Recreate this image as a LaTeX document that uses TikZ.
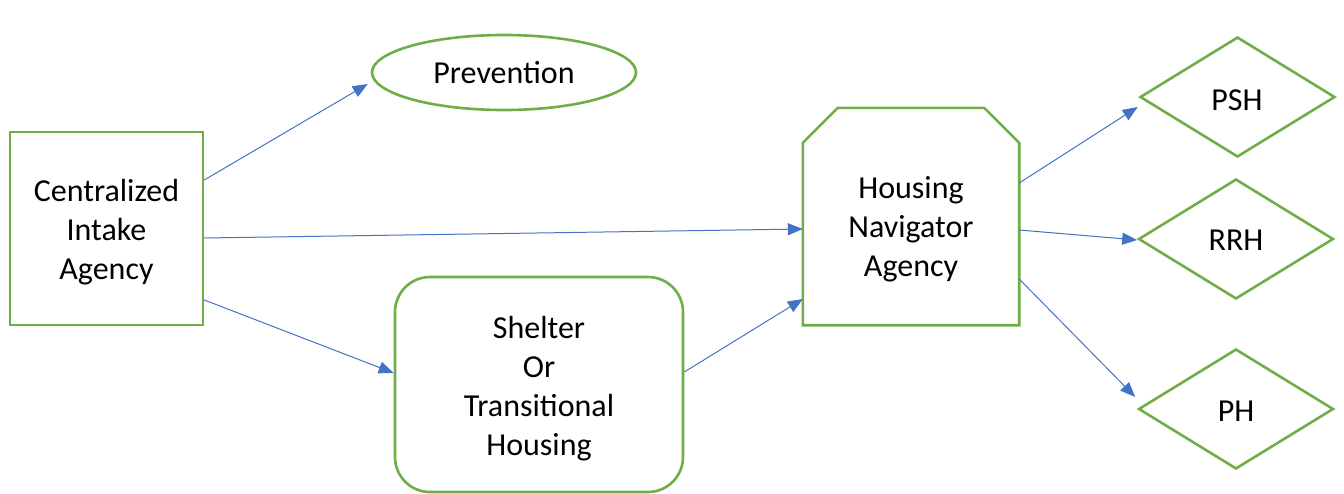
\documentclass[tikz,border=0pt]{standalone}
\usepackage{fontspec}
\setmainfont{Carlito}
\usetikzlibrary{shapes.geometric,arrows.meta,calc}
\definecolor{boxgreen}{HTML}{70AD47}
\definecolor{linkblue}{HTML}{4472C4}
\begin{document}
\begin{tikzpicture}[x=1pt,y=-1pt,
  every node/.style={font=\fontsize{32}{39}\selectfont, align=center, inner sep=0pt},
  boxline/.style={draw=boxgreen, line width=2.6pt},
  link/.style={draw=linkblue, line width=1pt, -{Triangle[length=15pt,width=12pt]}, fill=none},
  dia/.style={boxline, diamond, minimum width=195pt, minimum height=120pt}]
\useasboundingbox (0,0) rectangle (1344,493);

% agencies and programmes
\node[boxline, rectangle, minimum width=193pt, minimum height=193pt] (ci) at (106.5,228.5) {};
\node (citext) at (106.5,232) {Centralized\\Intake\\Agency};
\node[boxline, ellipse, minimum width=264pt, minimum height=75pt] (prev) at (504,72.5) {};
\node (prevtext) at (504,73) {Prevention};
\node[boxline, rectangle, rounded corners=35pt, minimum width=288pt, minimum height=215pt] (sh) at (539,384.5) {};
\node (shtext) at (539,389) {Shelter\\Or\\Transitional\\Housing};

% navigator box with the two upper corners cut off
\node[rectangle, minimum width=216pt, minimum height=217pt] (nav) at (911,216.5) {};
\draw[boxline, line join=miter] ($(nav.north west)+(0,35)$) -- ($(nav.north west)+(35,0)$)
  -- ($(nav.north east)+(-35,0)$) -- ($(nav.north east)+(0,35)$)
  -- (nav.south east) -- (nav.south west) -- cycle;
\node (navtext) at (911,229.5) {Housing\\Navigator\\Agency};

% housing outcomes
\node[dia] (psh) at (1237.5,97) {};
\node (pshtext) at (1237,100) {PSH};
\node[dia] (rrh) at (1236,239) {};
\node (rrhtext) at (1236,240) {RRH};
\node[dia] (ph) at (1236,409) {};
\node (phtext) at (1236,411) {PH};

% referral flows
\draw[link] ($(ci.east)+(0,-48.5)$) -- ($(prev.west)+(-3,11.5)$);
\draw[link] ($(ci.east)+(0,9.5)$) -- ($(nav.west)+(0,12.5)$);
\draw[link] ($(ci.east)+(0,71.5)$) -- ($(sh.west)+(0,-11.5)$);
\draw[link] ($(sh.east)+(0,-12.5)$) -- ($(nav.west)+(0,82.5)$);
\draw[link] ($(nav.east)+(0,-33.5)$) -- ($(psh.west)+(-1,10)$);
\draw[link] ($(nav.east)+(0,13.5)$) -- ($(rrh.west)+(0,1)$);
\draw[link] ($(nav.east)+(0,62.5)$) -- ($(ph.west)+(-2,-12)$);
\end{tikzpicture}
\end{document}
